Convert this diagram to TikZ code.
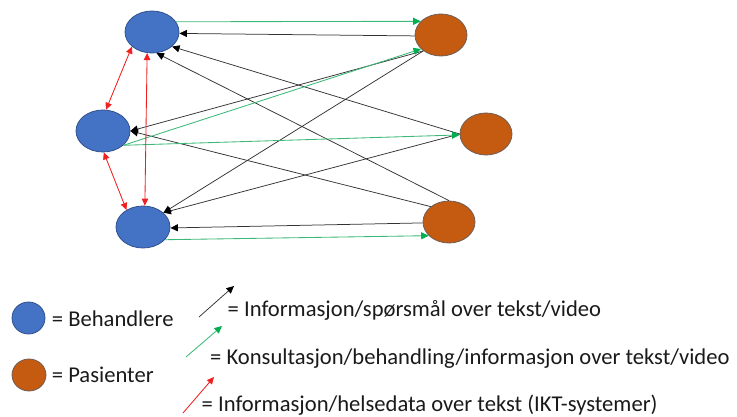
\documentclass[tikz,border=0pt]{standalone}
\usepackage{fontspec}
\setmainfont{Carlito}
\usetikzlibrary{arrows.meta,shapes.geometric}

\definecolor{bfill}{HTML}{4472C4}
\definecolor{bdraw}{HTML}{2F528F}
\definecolor{ofill}{HTML}{C55A11}
\definecolor{odraw}{HTML}{6E5E55}
\definecolor{gline}{HTML}{3CB878}
\definecolor{garrow}{HTML}{00B050}
\definecolor{kline}{HTML}{333333}
\definecolor{rline}{HTML}{F02020}
\definecolor{txt}{HTML}{1A1A1A}

\begin{document}
\begin{tikzpicture}[x=1pt,y=-1pt,
 beh/.style={ellipse,fill=bfill,draw=bdraw,line width=0.8pt,minimum width=54pt,minimum height=42pt,inner sep=0pt},
 pas/.style={ellipse,fill=ofill,draw=odraw,line width=0.8pt,minimum width=52pt,minimum height=42pt,inner sep=0pt},
 kar/.style={draw=kline,line width=0.75pt,-{Triangle[length=7.5pt,width=7pt,color=black]}},
 gar/.style={draw=gline,line width=0.85pt,-{Triangle[length=7.5pt,width=7pt,color=garrow]}},
 rar/.style={draw=rline,line width=0.85pt,{Triangle[length=7pt,width=6.5pt]}-{Triangle[length=7pt,width=6.5pt]}},
 rsa/.style={draw=rline,line width=0.85pt,-{Triangle[length=7pt,width=6.5pt]}},
 lab/.style={anchor=base west,inner sep=0pt,font=\fontsize{22.6}{26}\selectfont,text=txt}]
\useasboundingbox (0,0) rectangle (737,417);

\node[beh] (B1) at (152,32) {};
\node[beh] (B2) at (103,131) {};
\node[beh] (B3) at (143,227) {};
\node[pas] (P1) at (441,35) {};
\node[pas] (P2) at (486,134) {};
\node[pas] (P3) at (449,222) {};

% black: patient -> behandler
\draw[kar] (P1.182) -- (B1.-3);
\draw[kar] (P2.west) -- (B1.-36);
\draw[kar] (P3.north) -- (B1.-78);
\draw[kar] (P1.222) -- (B2.east);
\draw[kar] (P3.140) -- (B2.east);
\draw[kar] (P1.222) -- (B3.35);
\draw[kar] (P2.west) -- (B3.35);
\draw[kar] (P3.182) -- (B3.-2);

% green: behandler -> patient
\draw[gar] (B1.23) -- (P1.146);
\draw[gar] (B2.-35) -- (P1.215);
\draw[gar] (B2.-35) -- (P2.182);
\draw[gar] (B3.-30) -- (P3.214);

% red: between behandlere
\draw[rar] (B1.216) -- (B2.82);
\draw[rar] (B2.-88) -- (B3.134);
\draw[rar] (B1.-103) -- (B3.85);

% legend
\node[beh,minimum width=33pt,minimum height=32pt] (LB) at (28.5,318) {};
\node[pas,minimum width=34pt,minimum height=32pt] (LP) at (29,375) {};
\node[lab] (TB) at (51.7,326) {= Behandlere};
\node[lab] (TP) at (51.7,382.7) {= Pasienter};

\coordinate (k0) at (199,317); \coordinate (k1) at (234,286);
\draw[kar] (k0) -- (k1);
\coordinate (g0) at (186,357); \coordinate (g1) at (222,326);
\draw[gar] (g0) -- (g1);
\coordinate (r0) at (183,413); \coordinate (r1) at (214,377);
\draw[rsa] (r0) -- (r1);

\node[lab] (T1) at (227.5,316) {= Informasjon/spørsmål over tekst/video};
\node[lab] (T2) at (210,364) {= Konsultasjon/behandling/informasjon over tekst/video};
\node[lab] (T3) at (201.5,411.7) {= Informasjon/helsedata over tekst (IKT-systemer)};
\end{tikzpicture}
\end{document}
